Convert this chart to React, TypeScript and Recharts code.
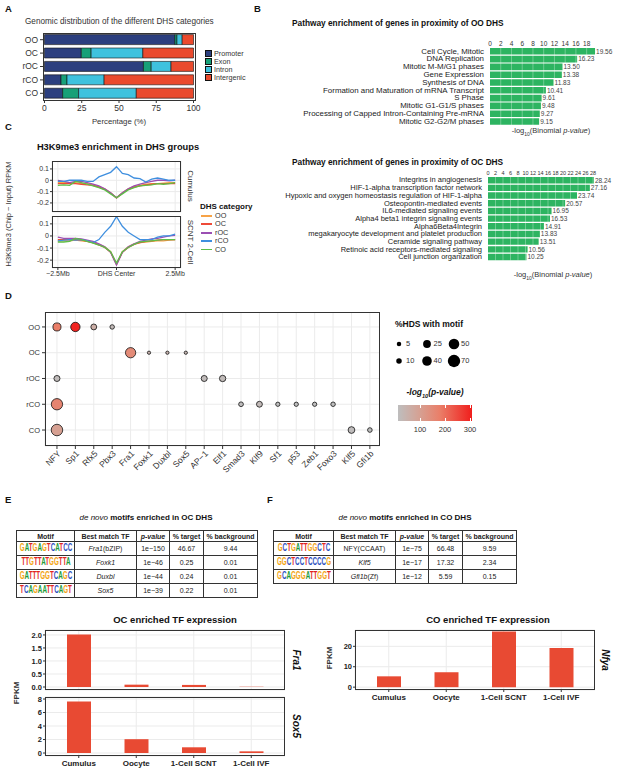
import React from 'react';
import {
  BarChart, Bar, XAxis, YAxis, CartesianGrid, LineChart, Line,
  ScatterChart, Scatter, ZAxis, Cell, LabelList, ReferenceLine
} from 'recharts';

const FONT = '"Liberation Sans", Arial, Helvetica, sans-serif';
const INK = '#333333';
const GRID = '#ebebeb';

// ── A: genomic distribution ──────────────────────────────────────────────
const DHS_GROUPS = ['OO', 'OC', 'rOC', 'rCO', 'CO'];
const PROMOTER = [87.5, 24.7, 66.4, 11.1, 12.2];
const EXON = [1.4, 6.6, 5.2, 4.0, 10.7];
const INTRON = [3.5, 34.7, 13.3, 24.9, 38.7];
const INTERGENIC = [7.6, 34.0, 15.1, 60.0, 38.4];
const REGION_LABELS = ['Promoter', 'Exon', 'Intron', 'Intergenic'];
const REGION_COLORS = ['#2c3f7f', '#17a078', '#3fc2de', '#ea4a2d'];

// ── B: pathway enrichment ────────────────────────────────────────────────
const OO_PATHWAYS = [
  'Cell Cycle, Mitotic', 'DNA Replication', 'Mitotic M-M/G1 phases', 'Gene Expression',
  'Synthesis of DNA', 'Formation and Maturation of mRNA Transcript', 'S Phase',
  'Mitotic G1-G1/S phases', 'Processing of Capped Intron-Containing Pre-mRNA', 'Mitotic G2-G2/M phases'
];
const OO_SCORES = [19.56, 16.23, 13.5, 13.38, 11.83, 10.41, 9.61, 9.48, 9.27, 9.15];
const OO_TICKS = [0, 2, 4, 6, 8, 10, 12, 14, 16, 18];
const OC_PATHWAYS = [
  'Integrins in angiogenesis', 'HIF-1-alpha transcription factor network',
  'Hypoxic and oxygen homeostasis regulation of HIF-1-alpha', 'Osteopontin-mediated events',
  'IL6-mediated signaling events', 'Alpha4 beta1 integrin signaling events', 'Alpha6Beta4Integrin',
  'megakaryocyte development and platelet production', 'Ceramide signaling pathway',
  'Retinoic acid receptors-mediated signaling', 'Cell junction organization'
];
const OC_SCORES = [28.24, 27.16, 23.74, 20.57, 16.95, 16.53, 14.91, 13.83, 13.51, 10.56, 10.25];
const OC_TICKS = [0, 2, 4, 6, 8, 10, 12, 14, 16, 18, 20, 22, 24, 26, 28];

// ── C: H3K9me3 profiles ──────────────────────────────────────────────────
const PROFILE_X = [-2.5, -2.25, -2, -1.75, -1.5, -1.25, -1, -0.75, -0.5, -0.25, 0, 0.25, 0.5, 0.75, 1, 1.25, 1.5, 1.75, 2, 2.25, 2.5];
const CAT_NAMES = ['OO', 'OC', 'rOC', 'rCO', 'CO'];
const CAT_COLORS = ['#f7a347', '#ee4a38', '#9b4fb3', '#3f8fdf', '#5dbf47'];
const CUMULUS_OO = [-0.02, -0.02, -0.02, -0.02, -0.03, -0.03, -0.04, -0.055, -0.075, -0.11, -0.155, -0.11, -0.075, -0.055, -0.045, -0.035, -0.03, -0.03, -0.025, -0.02, -0.02];
const CUMULUS_OC = [-0.03, -0.03, -0.03, -0.03, -0.035, -0.04, -0.045, -0.06, -0.08, -0.115, -0.155, -0.115, -0.08, -0.06, -0.05, -0.04, -0.035, -0.03, -0.03, -0.03, -0.03];
const CUMULUS_ROC = [0.0, -0.01, -0.02, -0.01, -0.01, -0.02, -0.035, -0.05, -0.075, -0.11, -0.155, -0.11, -0.075, -0.05, -0.035, -0.02, -0.01, 0.0, 0.0, -0.005, 0.0];
const CUMULUS_RCO = [-0.01, -0.01, 0.0, 0.0, 0.0, -0.01, -0.01, 0.03, 0.05, 0.07, 0.12, 0.06, 0.05, 0.02, 0.015, -0.015, 0.01, 0.02, 0.01, 0.0, 0.0];
const CUMULUS_CO = [-0.045, -0.04, -0.045, -0.01, -0.02, -0.035, -0.05, -0.065, -0.085, -0.12, -0.155, -0.12, -0.085, -0.065, -0.05, -0.045, -0.04, -0.03, -0.035, -0.03, -0.02];
const SCNT_OO = [-0.04, -0.04, -0.04, -0.035, -0.04, -0.045, -0.055, -0.07, -0.09, -0.13, -0.235, -0.13, -0.09, -0.065, -0.055, -0.05, -0.045, -0.04, -0.04, -0.035, -0.03];
const SCNT_OC = [-0.03, -0.03, -0.03, -0.03, -0.035, -0.045, -0.055, -0.075, -0.095, -0.135, -0.235, -0.135, -0.095, -0.07, -0.055, -0.045, -0.04, -0.035, -0.03, -0.03, -0.03];
const SCNT_ROC = [-0.01, -0.02, -0.02, -0.02, -0.025, -0.035, -0.045, -0.065, -0.09, -0.135, -0.24, -0.135, -0.09, -0.065, -0.045, -0.035, -0.025, -0.02, -0.01, 0.0, 0.005];
const SCNT_RCO = [-0.04, -0.035, -0.03, -0.035, -0.03, -0.04, -0.055, -0.03, 0.03, 0.08, 0.16, 0.08, 0.03, 0.0, -0.03, -0.03, -0.03, -0.01, 0.0, 0.0, 0.015];
const SCNT_CO = [-0.05, -0.05, -0.045, -0.02, -0.03, -0.045, -0.06, -0.075, -0.095, -0.13, -0.225, -0.13, -0.095, -0.07, -0.05, -0.045, -0.04, -0.035, -0.03, -0.03, -0.03];

// ── D: known motif enrichment ────────────────────────────────────────────
const MOTIF_TFS = ['NFY', 'Sp1', 'Rfx5', 'Pbx3', 'Fra1', 'Foxk1', 'Duxbl', 'Sox5', 'AP−1', 'Elf1', 'Smad3', 'Klf9', 'Sf1', 'p53', 'Zeb1', 'Foxo3', 'Klf5', 'Gfi1b'];
const MOTIF_ROWS = ['CO', 'rCO', 'rOC', 'OC', 'OO']; // bottom to top
const MOTIF_HITS = [
  { group: 'OO', tf: 'NFY', pct: 27, logp: 180 },
  { group: 'OO', tf: 'Sp1', pct: 38, logp: 300 },
  { group: 'OO', tf: 'Rfx5', pct: 12, logp: 60 },
  { group: 'OO', tf: 'Pbx3', pct: 5, logp: 25 },
  { group: 'OC', tf: 'Fra1', pct: 46.67, logp: 150 },
  { group: 'OC', tf: 'Foxk1', pct: 0.25, logp: 46 },
  { group: 'OC', tf: 'Duxbl', pct: 0.24, logp: 44 },
  { group: 'OC', tf: 'Sox5', pct: 0.22, logp: 39 },
  { group: 'rOC', tf: 'NFY', pct: 13, logp: 20 },
  { group: 'rOC', tf: 'AP−1', pct: 13, logp: 20 },
  { group: 'rOC', tf: 'Elf1', pct: 15, logp: 22 },
  { group: 'rCO', tf: 'NFY', pct: 58, logp: 165 },
  { group: 'rCO', tf: 'Smad3', pct: 6, logp: 15 },
  { group: 'rCO', tf: 'Klf9', pct: 12, logp: 25 },
  { group: 'rCO', tf: 'Sf1', pct: 4, logp: 12 },
  { group: 'rCO', tf: 'p53', pct: 4, logp: 12 },
  { group: 'rCO', tf: 'Zeb1', pct: 4, logp: 12 },
  { group: 'rCO', tf: 'Foxo3', pct: 5, logp: 12 },
  { group: 'CO', tf: 'NFY', pct: 60, logp: 100 },
  { group: 'CO', tf: 'Klf5', pct: 17.32, logp: 17 },
  { group: 'CO', tf: 'Gfi1b', pct: 5.59, logp: 12 }
];
const SIZE_LEGEND = [[5, 10], [25, 40], [50, 70]];
const PVAL_TICKS = [100, 200, 300];

// ── E / F: de novo motifs and expression ─────────────────────────────────
const OC_SEQS = ['GATGAGTCATCC', 'TTGTTATGGTTA', 'GATTTGGTCAGC', 'TCAGAATTCAGT'];
const OC_TFS = ['Fra1', 'Foxk1', 'Duxbl', 'Sox5'];
const OC_FAMILY = ['(bZIP)', '', '', ''];
const OC_P = ['1e−150', '1e−46', '1e−44', '1e−39'];
const OC_TARGET = ['46.67', '0.25', '0.24', '0.22'];
const OC_BG = ['9.44', '0.01', '0.01', '0.01'];
const CO_SEQS = ['GCTGATTGGCTC', 'GGCTCCTCCCCG', 'GCAGGGATTGGT'];
const CO_TFS = ['NFY', 'Klf5', 'Gfi1b'];
const CO_FAMILY = ['(CCAAT)', '', '(Zf)'];
const CO_P = ['1e−75', '1e−17', '1e−12'];
const CO_TARGET = ['66.48', '17.32', '5.59'];
const CO_BG = ['9.59', '2.34', '0.15'];

const STAGES = ['Cumulus', 'Oocyte', '1-Cell SCNT', '1-Cell IVF'];
const FRA1_FPKM = [2.02, 0.09, 0.08, 0.01];
const SOX5_FPKM = [7.65, 2.05, 0.85, 0.25];
const NFYA_FPKM = [5.3, 7.3, 27.3, 19.2];

const LOGO_COLORS: Record<string, string> = { A: '#1e9c3a', C: '#2b4fc0', G: '#f3a514', T: '#e2261f' };

const P_STOPS: [number, number[]][] = [
  [12, [190, 190, 190]], [100, [214, 160, 146]], [180, [234, 126, 104]], [308, [240, 30, 28]]
];
function motifColor(v: number) {
  for (let i = 1; i < P_STOPS.length; i++) {
    const [v0, c0] = P_STOPS[i - 1];
    const [v1, c1] = P_STOPS[i];
    if (v <= v1 || i === P_STOPS.length - 1) {
      const t = Math.max(0, Math.min(1, (v - v0) / (v1 - v0)));
      const c = c0.map((x, k) => Math.round(x + (c1[k] - x) * t));
      return `rgb(${c[0]},${c[1]},${c[2]})`;
    }
  }
  return '#bebebe';
}
const SIZE_DOMAIN = [0, 70];
const SIZE_RANGE = [8, 120];
function dotRadius(pct: number) {
  const area = SIZE_RANGE[0] + (pct - SIZE_DOMAIN[0]) / (SIZE_DOMAIN[1] - SIZE_DOMAIN[0]) * (SIZE_RANGE[1] - SIZE_RANGE[0]);
  return Math.sqrt(area / Math.PI);
}

// ── helpers ──────────────────────────────────────────────────────────────
function Note({ x, y, size = 8, bold = false, italic = false, align = 'center', rotate = 0, color = INK, children }: any) {
  const tx = align === 'center' ? '-50%' : align === 'right' ? '-100%' : '0';
  return (
    <div style={{
      position: 'absolute', left: x, top: y, transform: `translate(${tx},-50%) rotate(${rotate}deg)`,
      fontSize: size, fontWeight: bold ? 700 : 400, fontStyle: italic ? 'italic' : 'normal',
      whiteSpace: 'nowrap', color, lineHeight: 1
    }}>{children}</div>
  );
}

function Frame({ x, y, w, h }: any) {
  return <div style={{ position: 'absolute', left: x, top: y, width: w, height: h, border: '1px solid #333', boxSizing: 'border-box', pointerEvents: 'none' }} />;
}

function At({ x, y, children }: any) {
  return <div style={{ position: 'absolute', left: x, top: y }}>{children}</div>;
}

function PanelLetter({ x, y, children }: any) {
  return <Note x={x} y={y} size={9.5} bold align="left" color="#111">{children}</Note>;
}

// single-line tick, no wrapping
function PlainTick({ x, y, payload, size, color }: any) {
  return (
    <text x={x} y={y} dy="0.35em" textAnchor="end" fontSize={size} fill={color} stroke="none">
      {payload.value}
    </text>
  );
}

// ── A ──
function GenomicDistribution() {
  const data = DHS_GROUPS.map((g, i) => ({ group: g, Promoter: PROMOTER[i], Exon: EXON[i], Intron: INTRON[i], Intergenic: INTERGENIC[i] }));
  return (
    <At x={0} y={30}>
      <BarChart width={205} height={87} data={data} layout="vertical" margin={{ top: 3, right: 10, bottom: 0, left: 0 }} barCategoryGap="12%">
        <XAxis type="number" domain={[-1, 101]} ticks={[0, 25, 50, 75, 100]} interval={0} height={17} tick={{ fontSize: 8.5, fill: INK }} tickSize={3} tickMargin={2} axisLine={false} tickLine={{ stroke: INK }} />
        <YAxis type="category" dataKey="group" width={43} interval={0} tick={(p: any) => <PlainTick x={p.x} y={p.y} payload={p.payload} size={8.5} color={INK} />} tickSize={3} tickMargin={2} axisLine={false} tickLine={{ stroke: INK }} />
        {REGION_LABELS.map((k, i) => (
          <Bar key={k} dataKey={k} stackId="a" fill={REGION_COLORS[i]} stroke="#111" strokeWidth={0.6} isAnimationActive={false} />
        ))}
      </BarChart>
    </At>
  );
}

// ── B ──
function PathwayChart({ names, scores, ticks, x, y, width, height, yWidth, domainMax, marginRight, labelSize, tickFont, barSize }: any) {
  const data = names.map((n: string, i: number) => ({ name: n, value: scores[i] }));
  return (
    <At x={x} y={y}>
      <BarChart width={width} height={height} data={data} layout="vertical" margin={{ top: 0, right: marginRight, bottom: 0, left: 0 }}>
        <XAxis type="number" orientation="top" domain={[0, domainMax]} ticks={ticks} interval={0} height={10} tick={{ fontSize: tickFont, fill: INK }} tickSize={0} tickMargin={1} axisLine={false} tickLine={false} />
        <YAxis type="category" dataKey="name" width={yWidth} interval={0} tick={(p: any) => <PlainTick x={p.x} y={p.y} payload={p.payload} size={labelSize} color="#1a1a1a" />} tickSize={4} tickMargin={2} axisLine={false} tickLine={false} />
        <Bar dataKey="value" fill="#2db461" barSize={barSize} isAnimationActive={false}>
          <LabelList dataKey="value" position="right" offset={1} style={{ fontSize: 6.5, fill: '#444' }} formatter={(v: any) => Number(v).toFixed(2)} />
        </Bar>
        {ticks.slice(1).map((t: number) => (
          <ReferenceLine key={t} x={t} stroke="#ffffff" strokeOpacity={0.45} strokeWidth={0.7} />
        ))}
      </BarChart>
    </At>
  );
}

// ── C ──
function ProfileFacet({ series, y, height, domain, showX }: any) {
  const data = PROFILE_X.map((px, i) => {
    const row: any = { x: px };
    CAT_NAMES.forEach((c, k) => { row[c] = series[k][i]; });
    return row;
  });
  return (
    <At x={0} y={y}>
      <LineChart width={192} height={height} data={data} margin={{ top: 0, right: 11, bottom: showX ? 0 : 4, left: 0 }}>
        <CartesianGrid stroke={GRID} />
        <XAxis type="number" dataKey="x" domain={[-2.75, 2.75]} ticks={[-2.5, 0, 2.5]} interval={0} hide={!showX} height={14}
          tickFormatter={(v: number) => (v === 0 ? 'DHS Center' : v < 0 ? '−2.5Mb' : '2.5Mb')}
          tick={{ fontSize: 7, fill: INK }} tickSize={2} tickMargin={1} axisLine={false} tickLine={{ stroke: INK }} />
        <YAxis type="number" domain={domain} ticks={[-0.2, -0.1, 0, 0.1]} interval={0} width={52} allowDataOverflow
          tick={{ fontSize: 7, fill: INK }} tickSize={2} tickMargin={1} axisLine={false} tickLine={{ stroke: INK }} />
        {CAT_NAMES.map((c, k) => (
          <Line key={c} dataKey={c} stroke={CAT_COLORS[k]} strokeWidth={1.3} dot={false} type="linear" isAnimationActive={false} />
        ))}
      </LineChart>
    </At>
  );
}

// ── D ──
function MotifDots() {
  const points = MOTIF_HITS.map((h) => ({ x: MOTIF_TFS.indexOf(h.tf), y: MOTIF_ROWS.indexOf(h.group), pct: h.pct, logp: h.logp }));
  return (
    <At x={0} y={312}>
      <ScatterChart width={380} height={176} margin={{ top: 0, right: 0, bottom: 0, left: 0 }}>
        <CartesianGrid stroke={GRID} />
        <XAxis type="number" dataKey="x" domain={[-0.65, 17.55]} ticks={MOTIF_TFS.map((_, i) => i)} interval={0}
          tickFormatter={(i: number) => MOTIF_TFS[i]} height={42} angle={-45} textAnchor="end"
          tick={{ fontSize: 8.5, fill: INK, textAnchor: 'end' }} tickSize={3} tickMargin={1} axisLine={false} tickLine={{ stroke: INK }} />
        <YAxis type="number" dataKey="y" domain={[-0.62, 4.58]} ticks={[0, 1, 2, 3, 4]} interval={0}
          tickFormatter={(i: number) => MOTIF_ROWS[i]} width={45}
          tick={{ fontSize: 7.5, fill: INK }} tickSize={3} tickMargin={2} axisLine={false} tickLine={{ stroke: INK }} />
        <ZAxis type="number" dataKey="pct" domain={SIZE_DOMAIN} range={SIZE_RANGE} />
        <Scatter data={points} stroke="#111" strokeWidth={0.8} isAnimationActive={false}>
          {points.map((p, i) => <Cell key={i} fill={motifColor(p.logp)} />)}
        </Scatter>
      </ScatterChart>
    </At>
  );
}

function MotifLegend() {
  const lo = P_STOPS[0][0];
  const hi = P_STOPS[P_STOPS.length - 1][0];
  const stops = P_STOPS.map(([v]) => `${motifColor(v)} ${((v - lo) / (hi - lo)) * 100}%`).join(', ');
  const barX = 398;
  const barW = 74;
  return (
    <>
      <Note x={395} y={324} size={8.5} bold align="left" color="#111">%HDS with motif</Note>
      {SIZE_LEGEND.map((pair, col) => pair.map((v, row) => (
        <React.Fragment key={`${col}-${row}`}>
          <svg style={{ position: 'absolute', left: 392 + col * 27.5, top: 336 + row * 17 }} width={16} height={16}>
            <circle cx={7} cy={8} r={dotRadius(v)} fill="#000" />
          </svg>
          <Note x={406 + col * 27.5} y={344 + row * 17} size={7.5} align="left">{v}</Note>
        </React.Fragment>
      )))}
      <Note x={435} y={394} size={8.5} bold italic color="#111">-log<sub style={{ fontSize: 5.5 }}>10</sub>(p-value)</Note>
      <div style={{ position: 'absolute', left: barX, top: 405, width: barW, height: 16, background: `linear-gradient(to right, ${stops})` }} />
      {PVAL_TICKS.map((v) => {
        const px = barX + ((v - lo) / (hi - lo)) * barW;
        return (
          <React.Fragment key={v}>
            <div style={{ position: 'absolute', left: px - 0.5, top: 405, width: 1, height: 3, background: '#fff' }} />
            <div style={{ position: 'absolute', left: px - 0.5, top: 418, width: 1, height: 3, background: '#fff' }} />
            <Note x={px} y={430} size={7.5}>{v}</Note>
          </React.Fragment>
        );
      })}
    </>
  );
}

// ── E/F tables ──
function Logo({ seq }: { seq: string }) {
  return (
    <div style={{ position: 'relative', height: 12 }}>
      <span style={{ position: 'absolute', left: '50%', top: -1, transform: 'translateX(-50%) scale(0.66, 1.15)', whiteSpace: 'nowrap', fontSize: 9.5, fontWeight: 700, lineHeight: 1.2 }}>
        {seq.split('').map((ch, i) => <span key={i} style={{ color: LOGO_COLORS[ch] }}>{ch}</span>)}
      </span>
    </div>
  );
}

function MotifTable({ x, y, widths, seqs, tfs, family, pvals, target, bg }: any) {
  const cell: React.CSSProperties = { border: '1px solid #333', padding: 0, textAlign: 'center', fontSize: 7, height: 13, color: '#222' };
  const head: React.CSSProperties = { ...cell, fontWeight: 700, height: 10 };
  return (
    <table style={{ position: 'absolute', left: x, top: y, borderCollapse: 'collapse', tableLayout: 'fixed', width: widths.reduce((a: number, b: number) => a + b, 0), border: '1.2px solid #333' }}>
      <colgroup>{widths.map((w: number, i: number) => <col key={i} style={{ width: w }} />)}</colgroup>
      <thead>
        <tr>
          <th style={head}>Motif</th>
          <th style={head}>Best match TF</th>
          <th style={{ ...head, fontStyle: 'italic' }}>p-value</th>
          <th style={head}>% target</th>
          <th style={head}>% background</th>
        </tr>
      </thead>
      <tbody>
        {seqs.map((s: string, i: number) => (
          <tr key={s}>
            <td style={cell}><Logo seq={s} /></td>
            <td style={cell}><span style={{ fontStyle: tfs[i] === 'NFY' ? 'normal' : 'italic' }}>{tfs[i]}</span>{family[i]}</td>
            <td style={cell}>{pvals[i]}</td>
            <td style={cell}>{target[i]}</td>
            <td style={cell}>{bg[i]}</td>
          </tr>
        ))}
      </tbody>
    </table>
  );
}

// ── E/F expression ──
function ExpressionFacet({ x, y, values, plotHeight, domain, ticks, fmt, showX }: any) {
  const data = STAGES.map((s, i) => ({ stage: s, fpkm: values[i] }));
  const top = 4;
  return (
    <At x={x} y={y - top}>
      <BarChart width={285} height={plotHeight + top + (showX ? 18 : 4)} data={data} margin={{ top, right: 0, bottom: showX ? 0 : 4, left: 0 }}>
        <CartesianGrid stroke={GRID} />
        <XAxis dataKey="stage" hide={!showX} height={18} padding={{ left: 5, right: 5 }} interval={0}
          tick={{ fontSize: 8, fill: '#222', fontWeight: 700 }} tickSize={2} tickMargin={2} axisLine={false} tickLine={{ stroke: INK }} />
        <YAxis type="number" domain={domain} ticks={ticks} interval={0} width={45} allowDataOverflow
          tickFormatter={fmt} tick={{ fontSize: 7.5, fill: '#222', fontWeight: 700 }} tickSize={2} tickMargin={1} axisLine={false} tickLine={{ stroke: INK }} />
        <Bar dataKey="fpkm" fill="#e84a33" barSize={24} isAnimationActive={false} />
      </BarChart>
    </At>
  );
}

export default function App() {
  return (
    <div style={{ position: 'absolute', left: 0, top: 0, width: 617, height: 774, background: '#fff', fontFamily: FONT, color: INK, overflow: 'hidden' }}>
      {/* A */}
      <PanelLetter x={5} y={9}>A</PanelLetter>
      <Note x={25} y={22} size={8.2} align="left">Genomic distribution of the different DHS categories</Note>
      <GenomicDistribution />
      <Frame x={43} y={33} w={153} h={68} />
      <Note x={119} y={122} size={7.8}>Percentage (%)</Note>
      {REGION_LABELS.map((l, i) => (
        <React.Fragment key={l}>
          <div style={{ position: 'absolute', left: 205, top: 50 + i * 8, width: 7, height: 7, background: REGION_COLORS[i], border: '0.6px solid #111', boxSizing: 'border-box' }} />
          <Note x={214} y={54 + i * 8} size={7.2} align="left">{l}</Note>
        </React.Fragment>
      ))}

      {/* B */}
      <PanelLetter x={254} y={9}>B</PanelLetter>
      <Note x={292} y={23} size={8.3} bold align="left" color="#111">Pathway enrichment of genes in proximity of OO DHS</Note>
      <PathwayChart names={OO_PATHWAYS} scores={OO_SCORES} ticks={OO_TICKS} x={250} y={37} width={367} height={88}
        yWidth={240} domainMax={20} marginRight={19.6} labelSize={7.9} tickFont={6.5} barSize={6.6} />
      <Note x={551} y={132} size={7.5}>-log<sub style={{ fontSize: 5 }}>10</sub>(Binomial <i>p-value</i>)</Note>
      <Note x={292} y={162} size={8.3} bold align="left" color="#111">Pathway enrichment of genes in proximity of OC DHS</Note>
      <PathwayChart names={OC_PATHWAYS} scores={OC_SCORES} ticks={OC_TICKS} x={250} y={166} width={367} height={94.5}
        yWidth={238} domainMax={30} marginRight={16.5} labelSize={7.5} tickFont={5.5} barSize={6.4} />
      <Note x={553} y={276} size={7.5}>-log<sub style={{ fontSize: 5 }}>10</sub>(Binomial <i>p-value</i>)</Note>

      {/* C */}
      <PanelLetter x={5} y={127}>C</PanelLetter>
      <Note x={118} y={148} size={9.3} bold color="#111">H3K9me3 enrichment in DHS groups</Note>
      <ProfileFacet series={[CUMULUS_OO, CUMULUS_OC, CUMULUS_ROC, CUMULUS_RCO, CUMULUS_CO]} y={161} height={55} domain={[-0.28, 0.17]} showX={false} />
      <Frame x={52} y={161} w={129} h={51} />
      <ProfileFacet series={[SCNT_OO, SCNT_OC, SCNT_ROC, SCNT_RCO, SCNT_CO]} y={216} height={66} domain={[-0.265, 0.165]} showX />
      <Frame x={52} y={216} w={129} h={52} />
      <Note x={9} y={214} size={7.5} rotate={-90}>H3K9me3 (Chip − Input) RPKM</Note>
      <Note x={190} y={186} size={8} rotate={90}>Cumulus</Note>
      <Note x={190} y={242} size={8} rotate={90}>SCNT 2-Cell</Note>
      <Note x={200} y={207} size={8} bold align="left" color="#111">DHS category</Note>
      {CAT_NAMES.map((c, i) => (
        <React.Fragment key={c}>
          <div style={{ position: 'absolute', left: 201, top: 215 + i * 8.4, width: 11, height: 1.8, background: CAT_COLORS[i] }} />
          <Note x={215} y={216 + i * 8.4} size={7.3} align="left">{c}</Note>
        </React.Fragment>
      ))}

      {/* D */}
      <PanelLetter x={5} y={296}>D</PanelLetter>
      <MotifDots />
      <Frame x={45} y={312} w={335} h={134} />
      <MotifLegend />

      {/* E */}
      <PanelLetter x={5} y={500}>E</PanelLetter>
      <Note x={146} y={518} size={8} color="#111"><i>de novo</i> <b>motifs enriched in OC DHS</b></Note>
      <MotifTable x={16} y={530} widths={[58, 62, 33, 34, 54]} seqs={OC_SEQS} tfs={OC_TFS} family={OC_FAMILY} pvals={OC_P} target={OC_TARGET} bg={OC_BG} />
      <Note x={175} y={620} size={9.5} bold color="#111">OC enriched TF expression</Note>
      <ExpressionFacet x={0} y={630} values={FRA1_FPKM} plotHeight={60} domain={[-0.115, 2.19]} ticks={[0, 0.5, 1, 1.5, 2]} fmt={(v: number) => v.toFixed(1)} showX={false} />
      <Frame x={45} y={630} w={240} h={60} />
      <ExpressionFacet x={0} y={697} values={SOX5_FPKM} plotHeight={59} domain={[-0.44, 8.3]} ticks={[0, 2, 4, 6, 8]} fmt={(v: number) => String(v)} showX />
      <Frame x={45} y={697} w={240} h={59} />
      <Note x={17} y={693} size={8} bold rotate={-90}>FPKM</Note>
      <Note x={296} y={660} size={10} bold italic rotate={90} color="#111">Fra1</Note>
      <Note x={296} y={726} size={10} bold italic rotate={90} color="#111">Sox5</Note>

      {/* F */}
      <PanelLetter x={267} y={500}>F</PanelLetter>
      <Note x={405} y={518} size={8} color="#111"><i>de novo</i> <b>motifs enriched in CO DHS</b></Note>
      <MotifTable x={273} y={530} widths={[60, 62, 33, 34, 54]} seqs={CO_SEQS} tfs={CO_TFS} family={CO_FAMILY} pvals={CO_P} target={CO_TARGET} bg={CO_BG} />
      <Note x={488} y={620} size={9.5} bold color="#111">CO enriched TF expression</Note>
      <ExpressionFacet x={310} y={630} values={NFYA_FPKM} plotHeight={60} domain={[-1.4, 28]} ticks={[0, 10, 20]} fmt={(v: number) => String(v)} showX />
      <Frame x={355} y={630} w={240} h={60} />
      <Note x={330} y={658} size={8} bold rotate={-90}>FPKM</Note>
      <Note x={605} y={660} size={10} bold italic rotate={90} color="#111">Nfya</Note>
    </div>
  );
}
